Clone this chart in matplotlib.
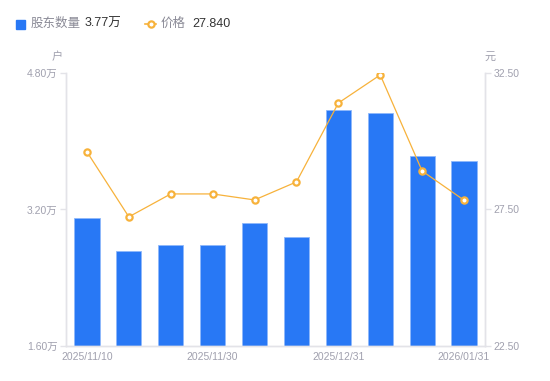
import matplotlib
matplotlib.use('Agg')
import matplotlib.pyplot as plt
from matplotlib.lines import Line2D
import numpy as np

plt.rcParams['font.family'] = ['Liberation Sans', 'Noto Sans CJK SC', 'DejaVu Sans']

dates = ['2025/11/10', '2025/11/20', '2025/11/25', '2025/11/30', '2025/12/10',
         '2025/12/20', '2025/12/31', '2026/01/10', '2026/01/20', '2026/01/31']
holders = [31000, 27100, 27800, 27800, 30400, 28800, 43700, 43300, 38300, 37700]
price = [29.61, 27.23, 28.07, 28.07, 27.85, 28.51, 31.40, 32.43, 28.91, 27.84]
left_ticks = [16000, 32000, 48000]
right_ticks = [22.5, 27.5, 32.5]

blue = '#2878f5'
orange = '#f7b23b'
grey_txt = '#a0a0ae'
axis_col = '#e3e3e8'

fig = plt.figure(figsize=(5.5, 3.81), dpi=100)
ax = fig.add_axes([0.12, 0.0919, 0.7618, 0.7165])
x = np.arange(len(dates))

ax.bar(x, holders, width=0.6, color=blue, edgecolor='#8fb8fb', linewidth=0.6, zorder=2)
ax.set_xlim(-0.5, len(dates) - 0.5)
ax.set_ylim(left_ticks[0], left_ticks[-1])
ax.set_yticks(left_ticks)
ax.set_yticklabels([f'{v / 10000:.2f}万' for v in left_ticks])
ax.set_xticks(x[::3])
ax.set_xticklabels(dates[::3])

ax2 = ax.twinx()
ax2.plot(x, price, color=orange, linewidth=0.9, marker='o', markersize=4.5,
         markerfacecolor='white', markeredgecolor=orange, markeredgewidth=1.6, zorder=3)
ax2.set_ylim(right_ticks[0], right_ticks[-1])
ax2.set_yticks(right_ticks)
ax2.set_yticklabels([f'{v:.2f}' for v in right_ticks])

for a in (ax, ax2):
    for s in a.spines.values():
        s.set_color(axis_col)
        s.set_linewidth(1)
    a.spines['top'].set_visible(False)
    a.tick_params(axis='y', colors=axis_col, labelcolor=grey_txt, labelsize=7.5,
                  length=4, width=1, pad=2)
ax.tick_params(axis='x', length=0, labelcolor=grey_txt, labelsize=7.5, pad=4)

fig.text(57 / 550, 1 - 57 / 381, '户', color=grey_txt, fontsize=8, ha='center', va='center')
fig.text(490 / 550, 1 - 57 / 381, '元', color=grey_txt, fontsize=8, ha='center', va='center')

# legend drawn by hand
fig.patches.append(plt.Rectangle((16 / 550, 1 - 29 / 381), 9 / 550, 9 / 381,
                                 transform=fig.transFigure, color=blue, figure=fig))
fig.text(31 / 550, 1 - 24 / 381, '股东数量', color='#8a8a96', fontsize=9, va='center')
fig.text(85 / 550, 1 - 24 / 381, '3.77万', color='#333333', fontsize=9, va='center')
fig.lines.append(Line2D([145 / 550, 156 / 550], [1 - 24 / 381, 1 - 24 / 381],
                        transform=fig.transFigure, color=orange, linewidth=1.2,
                        marker='o', markevery=[0], markersize=0))
fig.lines.append(Line2D([150.5 / 550], [1 - 24 / 381], transform=fig.transFigure,
                        color=orange, marker='o', markersize=4.5, markerfacecolor='white',
                        markeredgewidth=1.6, linestyle='none'))
fig.text(161 / 550, 1 - 24 / 381, '价格', color='#8a8a96', fontsize=9, va='center')
fig.text(192 / 550, 1 - 24 / 381, '27.840', color='#333333', fontsize=9, va='center')

fig.savefig('out.png', dpi=100)
